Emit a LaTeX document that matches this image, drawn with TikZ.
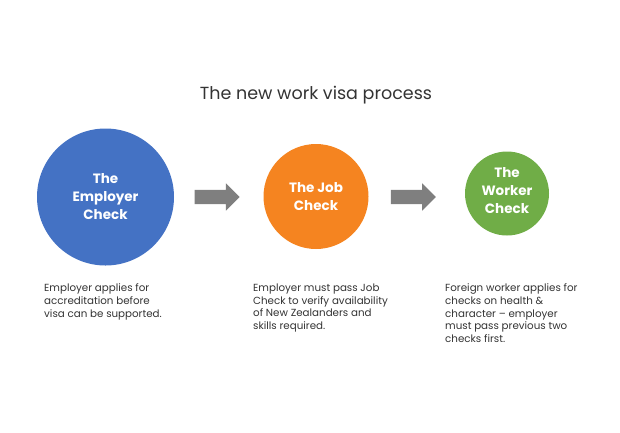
\documentclass[tikz,border=0pt]{standalone}
\usepackage{fontspec}
\setmainfont{Poppins}
\usetikzlibrary{shapes.arrows}
\definecolor{empblue}{HTML}{4472C4}
\definecolor{joborange}{HTML}{F58420}
\definecolor{workgreen}{HTML}{70AD47}
\definecolor{arrowgray}{HTML}{7F7F7F}
\definecolor{textgray}{HTML}{333333}
\begin{document}
\begin{tikzpicture}[x=1pt,y=-1pt,
		stage/.style = {circle, text = white, align = center, inner sep = 0pt, font = \fontsize{13.5}{18}\selectfont\bfseries},
		note/.style = {anchor = north west, align = left, inner sep = 0pt, text = textgray, font = \fontsize{10.3}{12.8}\selectfont},
		pass/.style = {single arrow, fill = arrowgray, minimum height = 45pt, single arrow head extend = 6.5pt, inner sep = 7pt, outer sep = 0pt}]

	\useasboundingbox (0,0) rectangle (620,432);

	\node [font = \fontsize{17.5}{20}\selectfont, text = textgray] (title) at (316,95) {The new work visa process};

	\node [stage, fill = empblue, minimum size = 137pt] (employer) at (105.5,197) {The\\Employer\\Check};
	\node [stage, fill = joborange, minimum size = 105pt] (job) at (316,196.5) {The Job\\Check};
	\node [stage, fill = workgreen, minimum size = 84pt, label = {[stage, yshift = 3pt]center:{The\\Worker\\Check}}] (worker) at (507,193.5) {};

	\node [pass] (pass_1) at (213.5,197) {};
	\node [pass] (pass_2) at (409.7,197) {};

	\node [note] (note_1) at (44,283.5) {Employer applies for\\accreditation before\\visa can be supported.};
	\node [note] (note_2) at (253,283.5) {Employer must pass Job\\Check to verify availability\\of New Zealanders and\\skills required.};
	\node [note] (note_3) at (445,283.5) {Foreign worker applies for\\checks on health \&\\character -- employer\\must pass previous two\\checks first.};
\end{tikzpicture}
\end{document}
